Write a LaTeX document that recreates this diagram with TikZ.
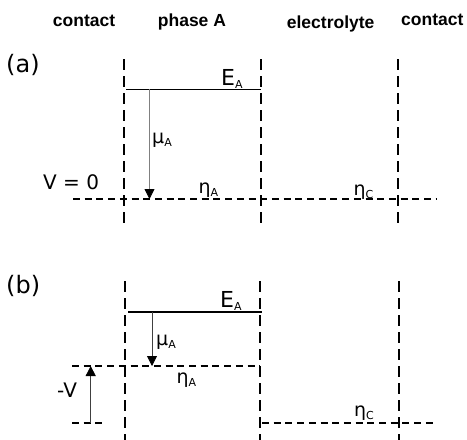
\documentclass[tikz,border=0pt]{standalone}
\usepackage{fontspec}
\setmainfont{Liberation Sans}
\newfontfamily\labfont{DejaVu Sans}
\usetikzlibrary{arrows.meta}
\begin{document}
\begin{tikzpicture}[x=1pt,y=-1pt,
  hdr/.style={anchor=base west,inner sep=0pt,font=\fontsize{17.5}{17.5}\selectfont\bfseries},
  lab/.style={anchor=base west,inner sep=0pt,font=\labfont\fontsize{20}{20}\selectfont},
  sym/.style={anchor=base west,inner sep=0pt,font=\labfont\fontsize{19}{19}\selectfont},
  elab/.style={anchor=base west,inner sep=0pt,font=\labfont\fontsize{22}{22}\selectfont},
  plab/.style={anchor=base west,inner sep=0pt,font=\labfont\fontsize{24}{24}\selectfont},
  vdash/.style={line width=1.6pt,dash pattern=on 10.5pt off 6.5pt},
  hdash/.style={line width=1.5pt,dash pattern=on 7pt off 4.7pt},
  level/.style={line width=1.3pt},
  arr/.style={line width=0.8pt,-{Triangle[width=10pt,length=10pt,color=black]}}]
\useasboundingbox (0,0) rectangle (467,440);
\newcommand{\sbA}[1]{\raisebox{-3.5pt}{\fontsize{11}{11}\selectfont #1}}
% headers
\node[hdr] (h1) at (52.7,26.7) {contact};
\node[hdr] (h2) at (157.7,26.7) {phase A};
\node[hdr] (h3) at (286.7,28.3) {electrolyte};
\node[hdr] (h4) at (401,25.7) {contact};
% ---------- (a)
\node[plab] (la) at (6,72) {(a)};
\coordinate (a1t) at (124,59); \coordinate (a1b) at (124,224);
\coordinate (a2t) at (261,59); \coordinate (a2b) at (261,224);
\coordinate (a3t) at (398,59); \coordinate (a3b) at (398,224);
\draw[vdash] (a1t) -- (a1b);
\draw[vdash] (a2t) -- (a2b);
\draw[vdash] (a3t) -- (a3b);
\coordinate (aEl) at (126,89.3); \coordinate (aEr) at (261,89.3);
\draw[level] (aEl) -- (aEr);
\coordinate (aVl) at (73,199); \coordinate (aVr) at (437,199);
\draw[hdash] (aVl) -- (aVr);
\coordinate (aMt) at (149.5,89.3); \coordinate (aMb) at (149.5,199);
\draw[arr,gray] (aMt) -- (aMb);
\node[elab] (aE) at (221,85) {E\sbA{A}};
\node[sym] (aMu) at (152,143) {μ\sbA{A}};
\node[sym] (aEtaA) at (198.5,193) {η\sbA{A}};
\node[sym] (aEtaC) at (353.5,195) {η\sbA{C}};
\node[lab] (aV) at (43,189) {V = 0};
% ---------- (b)
\node[plab] (lb) at (6,293.5) {(b)};
\coordinate (b1t) at (125,281); \coordinate (b1b) at (125,440);
\coordinate (b2t) at (260,281); \coordinate (b2b) at (260,440);
\coordinate (b3t) at (399,281); \coordinate (b3b) at (399,440);
\draw[vdash] (b1t) -- (b1b);
\draw[vdash] (b2t) -- (b2b);
\draw[vdash] (b3t) -- (b3b);
\coordinate (bEl) at (128,312); \coordinate (bEr) at (262,312);
\draw[level] (bEl) -- (bEr);
\coordinate (bAl) at (72,366); \coordinate (bAr) at (260,366);
\draw[hdash] (bAl) -- (bAr);
\coordinate (bSl) at (72,423); \coordinate (bSr) at (103,423);
\draw[hdash] (bSl) -- (bSr);
\coordinate (bCl) at (262,423); \coordinate (bCr) at (435,423);
\draw[hdash] (bCl) -- (bCr);
\coordinate (bMt) at (152,312); \coordinate (bMb) at (152,366);
\draw[arr,black!75] (bMt) -- (bMb);
\coordinate (bVb) at (90.7,423); \coordinate (bVt) at (90.7,366);
\draw[arr,black!75] (bVb) -- (bVt);
\node[elab] (bE) at (220,307) {E\sbA{A}};
\node[sym] (bMu) at (156,345) {μ\sbA{A}};
\node[sym] (bEtaA) at (176.5,383) {η\sbA{A}};
\node[sym] (bEtaC) at (354,416) {η\sbA{C}};
\node[lab] (bV) at (57,397) {-V};
\end{tikzpicture}
\end{document}
